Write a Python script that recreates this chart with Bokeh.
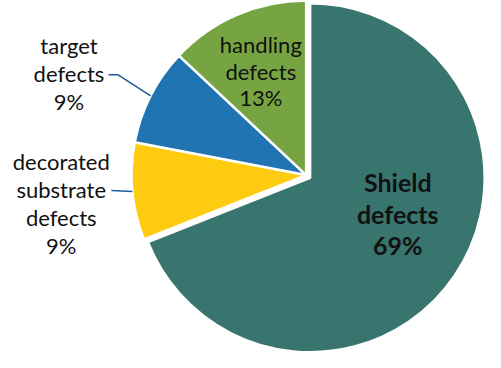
import math
from bokeh.plotting import figure
from bokeh.models import Range1d, ColumnDataSource
from bokeh.core.properties import value
from bokeh.embed import file_html
from bokeh.resources import INLINE

# ---- data ----
categories = ["Shield defects", "decorated substrate defects", "target defects", "handling defects"]
percents = [69, 9, 9, 13]
pct_labels = ["69%", "9%", "9%", "13%"]

# ---- style ----
colors = ["#38756E", "#FFCB11", "#1F74B1", "#77A443"]
explode = [5, 0, 0, 0]
CX, CY, R = 315.0, -183.0, 181.0
FONT = "Lato"

W, H = 485, 352
p = figure(width=W, height=H, output_backend="svg", toolbar_location=None,
           x_range=Range1d(-2, 501), y_range=Range1d(-367, -2),
           min_border=0, background_fill_color="white", border_fill_color="white")
p.axis.visible = False
p.grid.visible = False
p.outline_line_color = None

total = float(sum(percents))
starts, ends, mids, xs, ys = [], [], [], [], []
cum = 0.0
for v, e in zip(percents, explode):
    a0 = math.pi / 2 - 2 * math.pi * cum / total
    a1 = a0 - 2 * math.pi * v / total
    m = (a0 + a1) / 2
    starts.append(a0); ends.append(a1); mids.append(m)
    xs.append(CX + e * math.cos(m)); ys.append(CY + e * math.sin(m))
    cum += v

src = ColumnDataSource(dict(x=xs, y=ys, start=starts, end=ends, color=colors, cat=categories))
p.wedge(x="x", y="y", radius=R, start_angle="start", end_angle="end", direction="clock",
        fill_color="color", line_color="white", line_width=2.5, source=src)

# leader lines (outside labels), ending on the slice edge at mid angle
def edge(i):
    return CX + R * math.cos(mids[i]), CY + R * math.sin(mids[i])

ex, ey = edge(2)
p.line([110, 120, ex], [-79, -79, ey], line_color="#1F5C9E", line_width=1.5)
ex, ey = edge(1)
p.line([113, ex], [-199, ey], line_color="#1F5C9E", line_width=1.5)

txt_color = "#111111"
# handling (inside green)
def lines(xc, baselines, texts, size, style="normal"):
    p.text(x=[xc] * len(texts), y=[-b for b in baselines], text=texts,
           text_font=value(FONT), text_font_size=size, text_font_style=style,
           text_align="center", text_baseline="alphabetic", text_color=txt_color)

lines(268, [48, 76, 103], ["handling", "defects", pct_labels[3]], "22px")
lines(410, [190.5, 223, 256], ["Shield", "defects", pct_labels[0]], "25px", "bold")
lines(69, [49, 78, 107], ["target", "defects", pct_labels[2]], "22px")
lines(61, [169, 198, 227, 256], ["decorated", "substrate", "defects", pct_labels[1]], "22px")

open("out.html", "w").write(file_html(p, INLINE))
